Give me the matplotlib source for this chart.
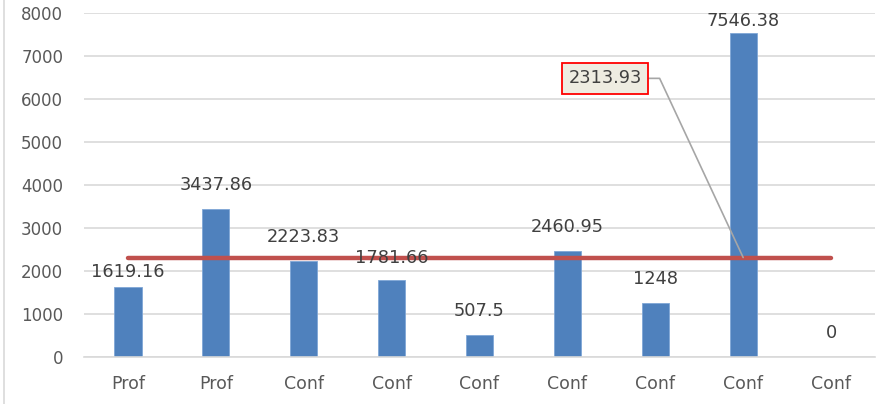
import matplotlib.pyplot as plt
import numpy as np
from matplotlib.lines import Line2D

# chart data
categories = ["Prof", "Prof", "Conf", "Conf", "Conf", "Conf", "Conf", "Conf", "Conf"]
values = [1619.16, 3437.86, 2223.83, 1781.66, 507.5, 2460.95, 1248, 7546.38, 0]
average = 2313.93
value_labels = ["1619.16", "3437.86", "2223.83", "1781.66", "507.5", "2460.95", "1248", "7546.38", "0"]

bar_color = "#4F81BD"
line_color = "#C0504D"
grid_color = "#D9D9D9"
text_color = "#404040"
tick_color = "#595959"

plt.rcParams["font.family"] = ["DejaVu Sans"]

fig = plt.figure(figsize=(8.91, 4.04), dpi=100)
ax = fig.add_axes([84 / 891, 47 / 404, (875 - 84) / 891, (357 - 13) / 404])

x = np.arange(len(categories))
ax.bar(x, values, width=0.31, color=bar_color, edgecolor="#7FA6D6", linewidth=0.6, zorder=2)

# average line across category centres
ax.plot([x[0], x[-1]], [average, average], color=line_color, linewidth=3.2,
        solid_capstyle="round", zorder=3)

# data labels above bars (pixel offsets for the few that were nudged)
offsets = [15, 24, 24, 22, 24, 24, 24, 12, 24]
for xi, v, lab, off in zip(x, values, value_labels, offsets):
    ax.annotate(lab, xy=(xi, v), xytext=(0, off * 0.72), textcoords="offset points",
                ha="center", va="center", fontsize=12.8, color=text_color, zorder=4,
                annotation_clip=False)

# callout for the average
ax.annotate("2313.93", xy=(7, average), xytext=(5.43, 6480),
            ha="center", va="center", fontsize=12.8, color=text_color,
            bbox=dict(boxstyle="square,pad=0.35", facecolor="#EEECE1", edgecolor="#FF0000", linewidth=1.3),
            arrowprops=dict(arrowstyle="-", color="#A6A6A6", linewidth=1.2, relpos=(1, 0.5),
                            shrinkA=0, shrinkB=0,
                            connectionstyle="angle,angleA=0,angleB=-65,rad=0"),
            zorder=5)

ax.set_xlim(-0.5, len(categories) - 0.5)
ax.set_ylim(0, 8000)
ax.set_yticks(np.arange(0, 8001, 1000))
ax.set_xticks(x)
ax.set_xticklabels(categories)
ax.grid(axis="y", color=grid_color, linewidth=1.2, zorder=0)
ax.set_axisbelow(True)
for side in ["left", "right", "top"]:
    ax.spines[side].set_visible(False)
ax.spines["bottom"].set_color(grid_color)
ax.spines["bottom"].set_linewidth(1.2)
ax.tick_params(axis="y", length=0, pad=15, labelsize=12, labelcolor=tick_color)
ax.tick_params(axis="x", length=0, pad=13, labelsize=12.5, labelcolor=tick_color)

# thin chart border on the left
fig.add_artist(Line2D([3.5 / 891, 3.5 / 891], [0, 1], color="#D9D9D9", linewidth=1.2))

fig.savefig("out.png", dpi=100)
